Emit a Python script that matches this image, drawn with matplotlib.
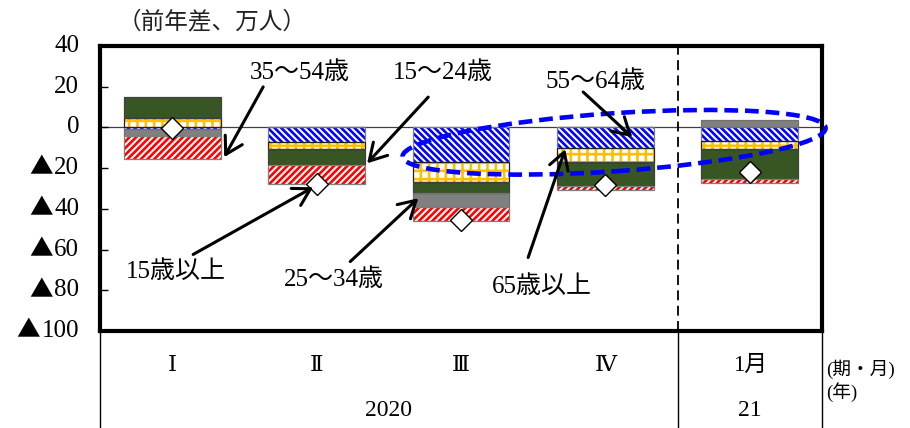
import numpy as np
import matplotlib
matplotlib.use('Agg')
import matplotlib.pyplot as plt
import matplotlib.transforms as mtransforms
from matplotlib.patches import Ellipse

plt.rcParams['font.family'] = ['Liberation Serif', 'DejaVu Serif', 'Noto Sans CJK JP']
plt.rcParams['hatch.linewidth'] = 1.9

# data (前年差、万人)
periods = ['Ⅰ', 'Ⅱ', 'Ⅲ', 'Ⅳ', '1月']
years = ['2020', '21']
year_members = [[0, 1, 2, 3], [4]]
age_55_64 = [-1, -7, -17, -10, -6.5]
age_65_over = [4.5, -3.5, -10, -7, -4]
age_15_24 = [10.5, -8, -5, -12, -15]
age_25_34 = [-3, 0, -7, 0, 3.5]
age_35_54 = [-11.5, -9.5, -7, -1.5, -2]
total_15_over = [-0.5, -28, -45.5, -28.5, -22]
yticks = [40, 20, 0, -20, -40, -60, -80, -100]

# stacking order from zero outwards
series = [
    (age_55_64, dict(color='white', edgecolor='#0000ff', hatch='\\' * 5), '#7f7f7f'),
    (age_65_over, dict(color='white', edgecolor='#ffc000', hatch='++'), '#202020'),
    (age_15_24, dict(color='#375623'), '#404040'),
    (age_25_34, dict(color='#808080'), '#707070'),
    (age_35_54, dict(color='white', edgecolor='#ff0000', hatch='/' * 5), '#7f7f7f'),
]

fig = plt.figure(figsize=(9.1, 4.28), dpi=100)
ax = fig.add_axes([100 / 910, 1 - 331 / 428, 722 / 910, 285 / 428])

x = np.arange(len(periods))
w = 0.67
pos_base = np.zeros(len(x))
neg_base = np.zeros(len(x))
for vals, style, edge in series:
    v = np.array(vals, dtype=float)
    bottom = np.where(v >= 0, pos_base, neg_base)
    ax.bar(x, v, w, bottom=bottom, linewidth=0, zorder=2, **style)
    ax.bar(x, v, w, bottom=bottom, fill=False, edgecolor=edge, linewidth=0.9, zorder=3)
    pos_base += np.clip(v, 0, None)
    neg_base += np.clip(v, None, 0)

ax.plot(x, total_15_over, 'D', ms=11.5, mfc='white', mec='black', mew=1, zorder=5)

ax.axhline(0, color='#404040', lw=0.9, zorder=1)
ax.axvline(3.5, color='black', lw=1.3, ls=(0, (5.5, 3)), zorder=1)

ax.set_xlim(-0.5, 4.5)
ax.set_ylim(-100, 40)
ax.set_xticks([])
ax.set_yticks(yticks)
ax.set_yticklabels([])
ax.tick_params(axis='y', direction='in', length=6, width=1)
for s in ax.spines.values():
    s.set_linewidth(3)
    s.set_color('black')

# y tick labels: serif digits with a full-width ▲ for negatives
ytrans = mtransforms.blended_transform_factory(ax.transAxes, ax.transData)
fs = 18
for v in yticks:
    num = str(abs(v))
    ax.annotate(num, xy=(0, v), xycoords=ytrans, xytext=(-15, 0), textcoords='offset points',
                ha='right', va='center', fontsize=fs)
    if v < 0:
        ax.annotate('▲', xy=(0, v), xycoords=ytrans, xytext=(-16 - 0.5 * fs * len(num), 0),
                    textcoords='offset points', ha='right', va='center', fontsize=fs - 1,
                    family='Noto Sans CJK JP')

# table under the axis
trans = mtransforms.blended_transform_factory(ax.transData, ax.transAxes)
for xv in [-0.5, 3.5, 4.5]:
    ax.plot([xv, xv], [0, -0.4], color='black', lw=1, transform=trans, clip_on=False)
for i, p in enumerate(periods):
    ax.text(i, -0.12, p, transform=trans, ha='center', va='center', fontsize=16.5)
for yr, members in zip(years, year_members):
    ax.text(np.mean(members), -0.28, yr, transform=trans, ha='center', va='center', fontsize=17)
ax.text(1.006, -0.135, '(期・月)', transform=ax.transAxes, ha='left', va='center', fontsize=13.5)
ax.text(1.006, -0.215, '(年)', transform=ax.transAxes, ha='left', va='center', fontsize=13.5)

# labels with arrows
labels = [
    ('35～54歳', (0.886, 26.7), (0.63, 19.9), (0.36, -14.6)),
    ('15～24歳', (1.877, 26.7), (1.773, 14.9), (1.35, -17.6)),
    ('55～64歳', (2.929, 22.5), (2.846, 17.4), (3.186, -4.8)),
    ('65歳以上', (2.562, -78.2), (2.465, -63.9), (2.722, -10.7)),
    ('25～34歳', (1.122, -74.7), (1.233, -65.9), (1.704, -34.8)),
    ('15歳以上', (0.028, -70.8), (0.145, -62.4), (0.976, -29.4)),
]
for text, tpos, start, tip in labels:
    ax.text(tpos[0], tpos[1], text, ha='center', va='center', fontsize=18, zorder=7)
    ax.annotate('', xy=tip, xytext=start,
                arrowprops=dict(arrowstyle='->,head_length=0.6,head_width=0.35',
                                lw=2.2, color='black', mutation_scale=20,
                                shrinkA=0, shrinkB=0), zorder=7)

# highlight ellipse (pixel-sized, centred in data coords)
el_trans = mtransforms.Affine2D().scale(fig.dpi / 100) + \
    mtransforms.ScaledTranslation(3.06, -7.3, ax.transData)
ax.add_patch(Ellipse((0, 0), 424, 58, angle=3.9, fill=False, edgecolor='#0000ff',
                     lw=3.3, ls=(0, (3, 1.5)), transform=el_trans, clip_on=False, zorder=6))

fig.text(118 / 910, 1 - 22 / 428, '（前年差、万人）', family='Noto Sans CJK JP',
         fontsize=17, ha='left', va='center', color='#222222')

fig.savefig('out.png', dpi=100)
